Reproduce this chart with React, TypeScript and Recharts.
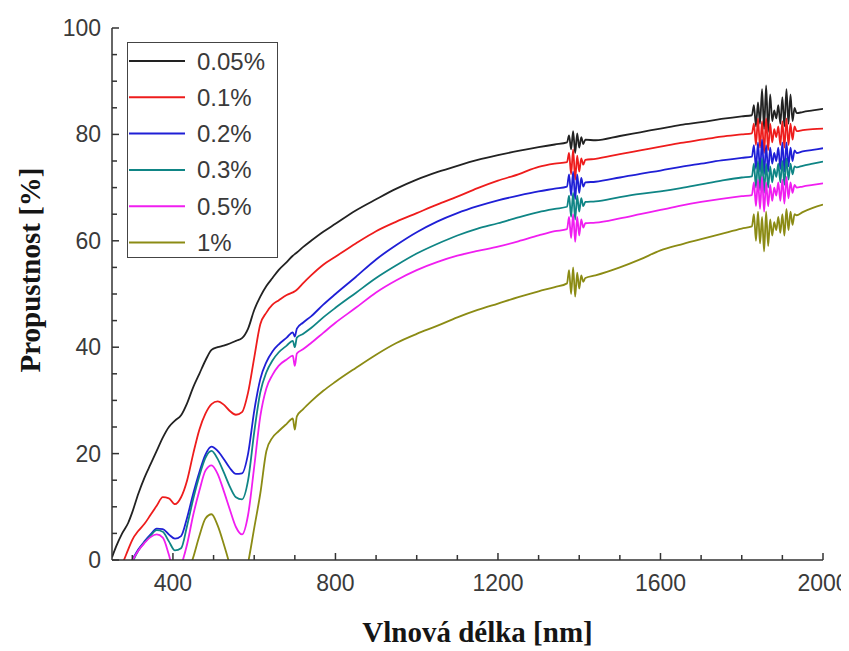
import { LineChart, Line, XAxis, YAxis, Label } from 'recharts';

// wavelength grid [nm]
const wavelength = [
  250, 260, 275, 290, 300, 315, 330, 345, 360, 375,
  390, 405, 420, 435, 450, 465, 480, 495, 510, 525,
  540, 555, 570, 585, 600, 615, 630, 645, 660, 680,
  695, 700, 705, 720, 740, 770, 800, 850, 900, 950,
  1000, 1050, 1100, 1150, 1200, 1250, 1300, 1340, 1370, 1375,
  1380, 1385, 1390, 1395, 1400, 1405, 1410, 1415, 1440, 1500,
  1550, 1600, 1650, 1700, 1750, 1800, 1825, 1830, 1835, 1840,
  1845, 1850, 1855, 1860, 1865, 1870, 1875, 1880, 1885, 1890,
  1895, 1900, 1905, 1910, 1915, 1920, 1925, 1930, 1935, 1950,
  1975, 2000,
];

const p005 = [
  0.5, 2.5, 5, 7, 9, 12.5, 15.5, 18, 20.5, 23,
  25, 26.2, 27.2, 29.5, 32.5, 35, 37.5, 39.5, 40, 40.3,
  40.7, 41.2, 41.7, 43.5, 47, 49.5, 51.5, 53, 54.5, 56,
  57.2, 57.5, 57.8, 58.8, 60, 61.7, 63.2, 65.7, 67.8, 69.8,
  71.5, 72.9, 74.1, 75.2, 76.1, 76.9, 77.6, 78.1, 78.5, 79.8,
  77.2, 80.6, 76.5, 80.2, 77.5, 79.5, 78.2, 79, 78.9, 79.7,
  80.4, 81.1, 81.8, 82.3, 82.9, 83.4, 83.6, 85.5, 81.5, 86,
  82, 88.5, 81, 89.2, 80.5, 87.5, 82.5, 84.5, 83, 85.5,
  82, 87, 81.5, 88.5, 82, 87.5, 82.5, 85, 84, 84.2,
  84.5, 84.8,
];

const p01 = [
  -5, -3, -0.8, 2, 3.8, 5.5, 6.8, 8.5, 10.2, 11.8,
  11.6, 10.5, 11.8, 15, 20, 24.5, 27.5, 29.3, 29.8, 29.2,
  28, 27.3, 27.8, 31.5, 38, 44.3, 46.5, 48, 48.8, 49.8,
  50.3, 50.5, 50.8, 52, 53.5, 55.5, 57, 59.5, 61.8, 63.6,
  65.2, 66.8, 68.3, 69.9, 71.3, 72.5, 73.9, 74.5, 74.8, 76.5,
  72.5, 77.2, 71.5, 76, 73, 75.5, 74.3, 75.2, 75.4, 76.3,
  77, 77.7, 78.4, 79, 79.6, 80, 80.2, 82, 78, 83,
  77.5, 82.5, 76.5, 83, 77, 82, 78.5, 81, 79.5, 81.5,
  78, 82.5, 77.5, 83, 78, 82, 79, 81.5, 80.6, 80.8,
  81, 81.1,
];

const p02 = [
  -8, -6, -4, -1.5, 0, 2, 3.5, 4.8, 5.9, 5.8,
  4.8, 4, 4.5, 8, 12.5, 16.5, 19.8, 21.3, 20.5, 19,
  17.3, 16.2, 16.3, 20, 28, 34, 37.2, 39.2, 40.5, 41.8,
  42.8, 42, 43.5, 44.6, 45.8, 48, 50, 53.2, 56.5, 59.2,
  61.6, 63.6, 65.2, 66.5, 67.6, 68.5, 69.3, 69.8, 70.2, 72.5,
  68.5, 73, 67.8, 72.5, 69, 71.8, 70.2, 71, 71.1, 71.9,
  72.6, 73.2, 73.9, 74.5, 75.1, 75.6, 75.8, 78, 73.5, 78.5,
  73, 79, 72.5, 78, 73, 77.5, 74.5, 76.5, 75, 77.5,
  73.5, 78.5, 73, 78.5, 74, 77.5, 75, 77, 76.5, 76.8,
  77.1, 77.4,
];

const p03 = [
  -9, -7, -5, -2.5, -0.5, 1.8, 3.3, 4.6, 5.6, 5.3,
  3.5, 1.8, 2.2, 6.5, 11.5, 15.8, 19.2, 20.5, 19, 16.5,
  13.8, 11.8, 11.4, 15, 24, 31.5, 35.3, 37.5, 39, 40.3,
  41.2, 40, 41.8, 42.5, 43.6, 45.6, 47.4, 50.2, 53, 55.4,
  57.6, 59.4, 61, 62.3, 63.3, 64.4, 65.4, 66, 66.4, 68.5,
  64.5, 69, 64, 68.5, 65.5, 68, 66.5, 67.3, 67.4, 68.2,
  68.8, 69.3, 69.9, 70.6, 71.3, 71.9, 72.1, 74.5, 70, 75,
  69.5, 75.5, 69, 74.5, 70, 74, 71, 73.5, 72, 74.5,
  71, 75, 70.5, 75.5, 71.5, 74.5, 72.5, 74, 73.8, 74.1,
  74.5, 74.9,
];

const p05 = [
  -10, -8, -6, -3, -0.3, 1.8, 3.2, 4.3, 4.8, 4.2,
  1, -3, -1, 3, 8.5, 13, 16.8, 17.8, 16.2, 13,
  9.5, 6.2, 4.8, 8.5, 17.5, 27, 32.3, 34.8, 36.5, 37.7,
  38.4, 36.5, 38.8, 39.6, 40.8, 42.7, 44.6, 47.4, 50.3, 52.6,
  54.5, 56, 57.2, 58.1, 58.9, 59.9, 61, 61.8, 62.2, 64.5,
  60.5, 65, 59.8, 64.5, 61, 64, 62.5, 63.3, 63.4, 64.2,
  65, 65.8, 66.6, 67.3, 67.9, 68.4, 68.6, 71, 66.5, 71.5,
  66, 72, 65.5, 71, 66.5, 70.5, 67.5, 70, 68.5, 71,
  67.5, 71.5, 67, 72, 68, 71, 69, 70.5, 70, 70.2,
  70.5, 70.8,
];

const p1 = [
  null, null, null, null, null, null, null, null, null, null,
  null, null, -8, -3, 0.5, 4.5, 7.8, 8.6, 6.5, 3,
  -1, -6, -5, -0.5, 6, 12.5, 20.5, 23, 24.2, 25.6,
  26.6, 24.5, 27, 28.3, 29.8, 31.8, 33.5, 36.1, 38.6, 40.8,
  42.5, 44, 45.6, 47, 48.2, 49.4, 50.5, 51.3, 52, 54.5,
  50, 55, 49.5, 54, 51, 53.5, 52.3, 53, 53.5, 55,
  56.5, 58.2, 59.3, 60.3, 61.3, 62.3, 62.7, 65, 60, 65.5,
  59.5, 64.5, 58, 65.5, 59, 64, 61, 63.5, 62, 64.5,
  61.5, 65, 61, 66, 62, 65.5, 63, 65, 64.8, 65.4,
  66.2, 66.8,
];

const seriesNames = ['0.05%', '0.1%', '0.2%', '0.3%', '0.5%', '1%'];
const seriesColors = ['#222222', '#ee1c1c', '#1f1fd6', '#0f8585', '#f01ef0', '#8b8b14'];
const seriesValues = [p005, p01, p02, p03, p05, p1];

const xTicks = [300, 400, 500, 600, 700, 800, 900, 1000, 1100, 1200, 1300, 1400, 1500, 1600, 1700, 1800, 1900, 2000];
const xLabels = [400, 800, 1200, 1600, 2000];
const yTicks = [0, 5, 10, 15, 20, 25, 30, 35, 40, 45, 50, 55, 60, 65, 70, 75, 80, 85, 90, 95, 100];
const yLabels = [0, 20, 40, 60, 80, 100];

const data = wavelength.map((w, i) => {
  const row: Record<string, number | null> = { w };
  seriesValues.forEach((vals, k) => {
    row['s' + k] = vals[i];
  });
  return row;
});

const frame = '#333';
const tickFont = { fontFamily: 'Liberation Sans, Arial, sans-serif', fontSize: 23, fill: '#3a3a3a' };

const BottomTick = (props: any) => {
  const { x, y, payload } = props;
  const major = xLabels.includes(payload.value);
  return (
    <g>
      <line x1={x} y1={y} x2={x} y2={y - (major ? 7 : 5)} stroke={frame} strokeWidth={1.5} />
      {major && (
        <text x={x} y={y + 31} textAnchor="middle" {...tickFont}>
          {payload.value}
        </text>
      )}
    </g>
  );
};

const TopTick = (props: any) => {
  const { x, y, payload } = props;
  const major = xLabels.includes(payload.value);
  return <line x1={x} y1={y} x2={x} y2={y + (major ? 7 : 5)} stroke={frame} strokeWidth={1.5} />;
};

const LeftTick = (props: any) => {
  const { x, y, payload } = props;
  const major = yLabels.includes(payload.value);
  return (
    <g>
      <line x1={x} y1={y} x2={x + (major ? 7 : 5)} y2={y} stroke={frame} strokeWidth={1.5} />
      {major && (
        <text x={x - 11} y={y + 8} textAnchor="end" {...tickFont}>
          {payload.value}
        </text>
      )}
    </g>
  );
};

const RightTick = (props: any) => {
  const { x, y, payload } = props;
  const major = yLabels.includes(payload.value);
  return <line x1={x} y1={y} x2={x - (major ? 7 : 5)} y2={y} stroke={frame} strokeWidth={1.5} />;
};

const titleStyle = { fontFamily: 'Liberation Serif, Times New Roman, serif', fontWeight: 'bold' as const, fontSize: 29, fill: '#151515' };

const LegendBox = () => (
  <div
    style={{
      position: 'absolute',
      left: 119,
      top: 34,
      width: 151,
      height: 216,
      border: '1.5px solid #444',
      background: '#fff',
      boxSizing: 'border-box',
    }}
  >
    <svg width={148} height={213}>
      {seriesNames.map((name, i) => {
        const cy = 18 + i * 36.3;
        return (
          <g key={name}>
            <line x1={1} y1={cy} x2={57} y2={cy} stroke={seriesColors[i]} strokeWidth={2} />
            <text x={69} y={cy + 8.5} fontFamily="Liberation Sans, Arial, sans-serif" fontSize={24} fill="#3a3a3a">
              {name}
            </text>
          </g>
        );
      })}
    </svg>
  </div>
);

export default function App() {
  return (
    <div style={{ position: 'relative', width: 841, height: 643 }}>
      <LineChart width={841} height={643} data={data} margin={{ top: 20, right: 26, bottom: 0, left: 0 }}>
        <XAxis
          dataKey="w"
          type="number"
          domain={[250, 2000]}
          allowDataOverflow
          ticks={xTicks}
          interval={0}
          height={91}
          tickSize={0}
          tickMargin={0}
          tickLine={false}
          tick={<BottomTick />}
          axisLine={{ stroke: frame, strokeWidth: 1.5 }}
        >
          <Label
            content={(p: any) => {
              const vb = p.viewBox;
              return (
                <text x={vb.x + vb.width / 2 + 10} y={vb.y + 82} textAnchor="middle" {...titleStyle}>
                  Vlnová délka [nm]
                </text>
              );
            }}
          />
        </XAxis>
        <XAxis
          xAxisId="top"
          orientation="top"
          dataKey="w"
          type="number"
          domain={[250, 2000]}
          allowDataOverflow
          ticks={xTicks}
          interval={0}
          height={0}
          tickSize={0}
          tickMargin={0}
          tickLine={false}
          tick={<TopTick />}
          axisLine={{ stroke: frame, strokeWidth: 1.5 }}
        />
        <YAxis
          type="number"
          domain={[0, 100]}
          allowDataOverflow
          ticks={yTicks}
          interval={0}
          width={104}
          tickSize={0}
          tickMargin={0}
          tickLine={false}
          tick={<LeftTick />}
          axisLine={{ stroke: frame, strokeWidth: 1.5 }}
        >
          <Label
            content={() => (
              <text x={32} y={262} textAnchor="middle" transform="rotate(-90, 32, 262)" {...titleStyle}>
                Propustnost [%]
              </text>
            )}
          />
        </YAxis>
        <YAxis
          yAxisId="right"
          orientation="right"
          type="number"
          domain={[0, 100]}
          allowDataOverflow
          ticks={yTicks}
          interval={0}
          width={0}
          tickSize={0}
          tickMargin={0}
          tickLine={false}
          tick={<RightTick />}
          axisLine={{ stroke: frame, strokeWidth: 1.5 }}
        />
        {seriesNames.map((name, i) => (
          <Line
            key={name}
            name={name}
            dataKey={'s' + i}
            type="monotone"
            stroke={seriesColors[i]}
            strokeWidth={1.8}
            dot={false}
            connectNulls={false}
            isAnimationActive={false}
          />
        ))}
      </LineChart>
      <LegendBox />
    </div>
  );
}
